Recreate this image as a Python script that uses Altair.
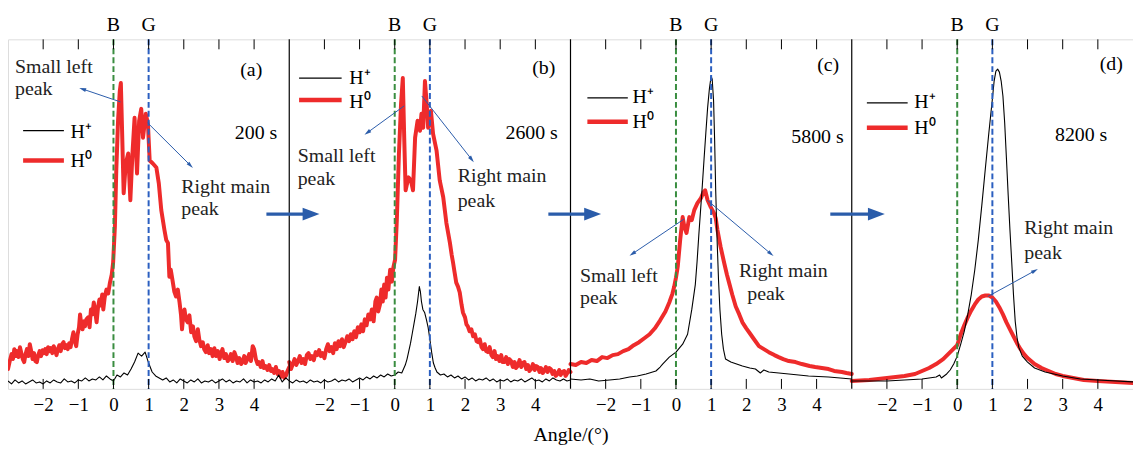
import math
import altair as alt
import pandas as pd

# ---------------- layout constants ----------------
SHIFT = 8              # angle units between consecutive panel origins
X_MIN, X_MAX = -3, 29  # unified x range (4 panels of 8 units)
W, H = 1133, 352
Y_MAX = 352
PX_PER_UNIT = W / (X_MAX - X_MIN)

RED = "#ee2b2b"
BLACK = "#000000"
GREEN = "#3a8d40"
BLUE_DASH = "#2b5fc0"
ARROW = "#2a5caa"
FONT = "Liberation Serif"

# ---------------- data (angle in degrees, intensity in arbitrary units) ----------------
panel_tags = ["(a)", "(b)", "(c)", "(d)"]
panel_times = ["200 s", "2600 s", "5800 s", "8200 s"]
tick_values = [-2, -1, 0, 1, 2, 3, 4]
ref_angles = [0, 1]
ref_names = ["B", "G"]

# H0 (red) curves
h0_a = [(-3.00,20),(-2.95,28),(-2.90,35),(-2.86,30),(-2.82,40),(-2.78,33),(-2.74,38),(-2.70,32),(-2.66,42),
        (-2.62,36),(-2.58,30),(-2.54,27),(-2.50,35),(-2.46,40),(-2.42,33),(-2.38,45),(-2.34,38),(-2.30,30),
        (-2.26,36),(-2.22,28),(-2.18,27),(-2.14,34),(-2.10,38),(-2.06,33),(-2.02,39),(-1.98,36),(-1.94,40),
        (-1.90,35),(-1.86,42),(-1.82,38),(-1.78,41),(-1.74,36),(-1.70,43),(-1.66,39),(-1.62,34),(-1.58,40),
        (-1.54,44),(-1.50,38),(-1.46,45),(-1.42,47),(-1.38,41),(-1.34,44),(-1.30,40),(-1.26,46),(-1.22,42),
        (-1.18,50),(-1.14,57),(-1.10,48),(-1.06,43),(-1.02,55),(-0.98,62),(-0.95,75),(-0.92,66),(-0.88,60),
        (-0.84,68),(-0.81,63),(-0.77,70),(-0.72,72),(-0.68,62),(-0.64,80),(-0.60,75),(-0.56,87),(-0.52,78),
        (-0.48,67),(-0.44,82),(-0.40,90),(-0.36,84),(-0.32,95),(-0.29,80),(-0.25,92),(-0.20,100),(-0.15,96),
        (-0.10,107),(-0.05,115),(-0.01,127),(0.04,163),(0.08,220),(0.13,270),(0.18,300),(0.21,308),(0.25,253),
        (0.29,197),(0.35,227),(0.42,237),(0.48,190),(0.54,237),(0.60,273),(0.67,217),(0.73,270),(0.79,282),
        (0.84,253),(0.92,277),(0.98,267),(1.03,230),(1.12,227),(1.22,223),(1.29,207),(1.36,180),(1.45,160),
        (1.50,150),(1.55,147),(1.59,113),(1.63,120),(1.69,107),(1.73,98),(1.78,93),(1.83,100),(1.88,87),
        (1.92,75),(1.95,60),(1.98,72),(2.02,80),(2.06,70),(2.11,67),(2.16,74),(2.21,57),(2.26,63),(2.30,53),
        (2.35,48),(2.40,60),(2.44,50),(2.49,43),(2.54,47),(2.58,40),(2.63,37),(2.68,44),(2.72,36),(2.77,40),
        (2.82,33),(2.87,41),(2.92,33),(2.97,38),(3.02,30),(3.06,36),(3.10,40),(3.15,31),(3.20,35),(3.25,28),
        (3.29,30),(3.34,35),(3.39,28),(3.44,37),(3.48,33),(3.53,26),(3.58,31),(3.63,25),(3.67,27),(3.72,33),
        (3.76,26),(3.81,30),(3.86,35),(3.91,28),(3.96,43),(4.00,40),(4.05,30),(4.10,25),(4.14,27),(4.19,22),
        (4.24,28),(4.28,21),(4.33,23),(4.38,19),(4.43,24),(4.48,18),(4.52,20),(4.57,16),(4.62,22),(4.67,15),
        (4.71,18),(4.76,12),(4.81,17),(4.86,11),(4.90,13),(4.95,18),(5.00,22)]
h0_b = [(-3.00,27),(-2.95,20),(-2.90,25),(-2.85,30),(-2.80,24),(-2.75,28),(-2.70,33),(-2.65,26),(-2.60,30),
        (-2.55,25),(-2.50,34),(-2.45,36),(-2.40,30),(-2.35,33),(-2.30,29),(-2.25,37),(-2.20,34),(-2.15,39),
        (-2.10,33),(-2.05,36),(-2.00,31),(-1.95,40),(-1.90,45),(-1.85,38),(-1.80,42),(-1.75,36),(-1.70,46),
        (-1.65,40),(-1.60,48),(-1.55,43),(-1.50,50),(-1.45,42),(-1.40,47),(-1.35,53),(-1.30,48),(-1.25,55),
        (-1.20,50),(-1.15,58),(-1.10,52),(-1.05,62),(-1.00,57),(-0.95,65),(-0.90,58),(-0.85,70),(-0.80,64),
        (-0.75,75),(-0.70,70),(-0.65,80),(-0.60,68),(-0.55,88),(-0.51,92),(-0.47,78),(-0.42,85),(-0.38,100),
        (-0.34,88),(-0.30,105),(-0.26,92),(-0.22,112),(-0.18,100),(-0.13,120),(-0.08,108),(-0.04,122),
        (0.01,130),(0.06,170),(0.12,237),(0.18,287),(0.23,313),(0.27,253),(0.31,200),(0.39,213),(0.46,210),
        (0.52,200),(0.58,253),(0.65,270),(0.72,260),(0.76,277),(0.81,263),(0.86,310),(0.91,287),(0.95,263),
        (1.03,280),(1.09,257),(1.19,240),(1.28,210),(1.38,193),(1.47,167),(1.57,147),(1.62,135),(1.66,127),
        (1.70,118),(1.75,107),(1.80,103),(1.85,97),(1.90,85),(1.94,77),(2.00,72),(2.04,65),(2.08,63),
        (2.13,58),(2.18,60),(2.23,53),(2.28,55),(2.33,48),(2.37,47),(2.42,50),(2.47,42),(2.51,40),(2.56,45),
        (2.60,38),(2.65,37),(2.70,42),(2.75,34),(2.79,32),(2.84,38),(2.88,30),(2.93,33),(2.98,28),(3.03,34),
        (3.07,27),(3.12,27),(3.17,32),(3.22,25),(3.26,30),(3.31,28),(3.36,22),(3.41,27),(3.45,21),(3.50,23),
        (3.55,29),(3.60,22),(3.64,26),(3.69,27),(3.74,20),(3.79,24),(3.83,18),(3.88,20),(3.93,25),(3.98,19),
        (4.02,23),(4.07,22),(4.12,17),(4.16,21),(4.21,16),(4.25,18),(4.30,22),(4.35,17),(4.40,21),(4.44,20),
        (4.49,15),(4.54,18),(4.58,13),(4.63,15),(4.68,19),(4.72,14),(4.77,17),(4.82,18),(4.86,13),(4.91,16),
        (4.95,19),(5.00,17)]
h0_c = [(-3.00,25),(-2.85,24),(-2.70,27),(-2.55,26),(-2.40,29),(-2.25,28),(-2.10,32),(-1.95,31),(-1.80,34),
        (-1.65,35),(-1.50,38),(-1.35,40),(-1.20,44),(-1.05,47),(-0.90,51),(-0.75,55),(-0.60,61),(-0.45,69),
        (-0.30,78),(-0.19,87),(-0.10,96),(-0.05,103),(0.00,112),(0.05,123),(0.12,150),(0.19,173),(0.24,163),
        (0.30,157),(0.38,173),(0.45,170),(0.52,180),(0.61,187),(0.71,192),(0.78,198),(0.83,200),(0.90,190),
        (0.99,183),(1.08,177),(1.13,172),(1.18,160),(1.27,143),(1.37,127),(1.45,115),(1.51,107),(1.60,95),
        (1.70,83),(1.80,75),(1.89,67),(2.00,61),(2.08,57),(2.20,51),(2.36,43),(2.50,40),(2.64,37),(2.80,34),
        (2.92,32),(3.05,30),(3.21,28),(3.40,27),(3.58,25),(3.80,23),(3.96,22),(4.15,21),(4.34,20),(4.50,18),
        (4.72,17),(4.85,16),(5.00,15)]
h0_d = [(-3.0,8),(-2.5,9),(-2.0,11),(-1.5,13),(-1.2,15),(-1.0,18),(-0.8,21),(-0.6,25),(-0.4,30),(-0.2,37),
        (0.0,44),(0.1,55),(0.2,64),(0.3,72),(0.4,79),(0.5,85),(0.6,90),(0.7,93),(0.8,94),(0.9,94),(1.0,92),
        (1.1,88),(1.2,82),(1.3,75),(1.4,67),(1.5,60),(1.6,53),(1.7,46),(1.8,40),(1.9,35),(2.0,31),(2.2,25),
        (2.4,21),(2.6,18),(2.8,15),(3.0,13),(3.3,11),(3.6,9),(4.0,8),(4.5,7),(5.0,6)]

# H+ (black) curves
hp_a = [(-3.0,8),(-2.9,5),(-2.8,9),(-2.7,6),(-2.6,8),(-2.5,5),(-2.4,7),(-2.3,9),(-2.2,6),(-2.1,7),(-2.0,5),
        (-1.9,8),(-1.8,6),(-1.7,9),(-1.6,7),(-1.5,6),(-1.4,10),(-1.3,7),(-1.2,8),(-1.1,6),(-1.0,9),(-0.9,8),
        (-0.8,11),(-0.7,8),(-0.6,10),(-0.5,9),(-0.4,12),(-0.3,9),(-0.2,13),(-0.1,10),(0.0,8),(0.1,14),(0.2,12),
        (0.3,16),(0.4,14),(0.5,20),(0.6,27),(0.7,36),(0.8,33),(0.9,37),(1.0,26),(1.1,17),(1.2,13),(1.3,11),
        (1.4,9),(1.5,11),(1.6,7),(1.7,9),(1.8,6),(1.9,10),(2.0,8),(2.1,6),(2.2,9),(2.3,7),(2.4,10),(2.5,6),
        (2.6,8),(2.7,7),(2.8,9),(2.9,6),(3.0,8),(3.1,10),(3.2,7),(3.3,9),(3.4,6),(3.5,8),(3.6,7),(3.7,10),
        (3.8,6),(3.9,9),(4.0,7),(4.1,8),(4.2,6),(4.3,9),(4.4,7),(4.5,10),(4.6,8),(4.7,14),(4.8,7),(4.9,11),(5.0,8)]
hp_b = [(-3.0,8),(-2.9,6),(-2.8,9),(-2.7,7),(-2.6,8),(-2.5,6),(-2.4,9),(-2.3,7),(-2.2,8),(-2.1,6),(-2.0,9),
        (-1.9,7),(-1.8,8),(-1.7,10),(-1.6,7),(-1.5,9),(-1.4,8),(-1.3,10),(-1.2,7),(-1.1,9),(-1.0,11),(-0.9,9),
        (-0.8,12),(-0.7,10),(-0.6,13),(-0.5,11),(-0.4,14),(-0.3,12),(-0.2,15),(-0.1,13),(0.0,14),(0.1,17),
        (0.2,16),(0.25,20),(0.3,24),(0.35,30),(0.4,38),(0.45,46),(0.5,56),(0.55,66),(0.6,76),(0.65,88),
        (0.7,103),(0.73,98),(0.76,88),(0.8,80),(0.85,77),(0.9,70),(0.95,62),(1.0,50),(1.05,37),(1.1,26),
        (1.15,21),(1.2,17),(1.3,14),(1.4,15),(1.5,12),(1.6,14),(1.7,11),(1.8,13),(1.9,10),(2.0,12),(2.1,9),
        (2.2,11),(2.3,8),(2.4,10),(2.5,9),(2.6,11),(2.7,8),(2.8,10),(2.9,7),(3.0,9),(3.1,8),(3.2,10),(3.3,7),
        (3.4,9),(3.5,8),(3.6,10),(3.7,7),(3.8,9),(3.9,11),(4.0,8),(4.1,9),(4.2,7),(4.3,10),(4.4,8),(4.5,11),
        (4.6,9),(4.7,8),(4.8,10),(4.9,8),(5.0,9)]
hp_c = [(-3.00,10),(-2.70,9),(-2.45,10),(-2.20,8),(-1.89,9),(-1.60,10),(-1.32,12),(-1.10,13),(-0.85,15),
        (-0.57,18),(-0.45,22),(-0.38,25),(-0.19,32),(0.00,37),(0.19,45),(0.33,55),(0.45,80),(0.55,105),
        (0.60,128),(0.65,155),(0.70,180),(0.75,205),(0.80,232),(0.85,258),(0.90,283),(0.95,302),(1.00,315),
        (1.03,312),(1.07,290),(1.10,250),(1.13,200),(1.17,150),(1.21,110),(1.25,80),(1.30,55),(1.35,40),
        (1.41,30),(1.56,27),(1.89,23),(2.10,21),(2.26,20),(2.40,16),(2.50,19),(2.64,17),(3.21,15),(3.77,13),
        (4.34,12),(5.00,10)]
hp_d = [(-3.0,8),(-2.0,8),(-1.0,10),(-0.6,12),(-0.5,14),(-0.45,11),(-0.3,15),(-0.2,19),(-0.1,25),(0.0,33),
        (0.1,45),(0.2,58),(0.3,75),(0.4,95),(0.5,120),(0.6,150),(0.7,185),(0.8,222),(0.9,258),(1.0,292),
        (1.05,310),(1.1,320),(1.15,322),(1.2,319),(1.25,310),(1.3,295),(1.35,268),(1.4,232),(1.45,195),
        (1.5,160),(1.55,128),(1.6,95),(1.65,68),(1.7,52),(1.75,42),(1.85,33),(2.0,27),(2.2,21),(2.5,17),
        (3.0,13),(3.5,10),(4.0,9),(5.0,7)]

# annotation placement (panel, angle, intensity)
tag_pos = [(0, 3.92, 315), (1, 4.24, 317), (2, 4.33, 320), (3, 4.38, 321)]
time_pos = [(0, 4.66, 252), (1, 4.64, 252), (2, 4.77, 248), (3, 4.27, 250)]
legend_lines = [(0, -2.57, -1.41, 260, "H+"), (0, -2.57, -1.41, 230, "H0"),
                (1, -2.72, -1.51, 313, "H+"), (1, -2.72, -1.51, 291, "H0"),
                (2, -2.52, -1.37, 293, "H+"), (2, -2.52, -1.37, 269, "H0"),
                (3, -2.57, -1.41, 288, "H+"), (3, -2.57, -1.41, 263, "H0")]
legend_texts = [(0, -1.22, 253, "H⁺"), (0, -1.22, 223, "H⁰"),
                (1, -1.29, 307, "H⁺"), (1, -1.29, 283, "H⁰"),
                (2, -1.24, 288, "H⁺"), (2, -1.24, 263, "H⁰"),
                (3, -1.22, 283, "H⁺"), (3, -1.22, 257, "H⁰")]
note_texts = [(0, -2.80, 318, "Small left"), (0, -2.80, 296, "peak"),
              (0, 1.93, 197, "Right main"), (0, 1.93, 175, "peak"),
              (1, -2.76, 228, "Small left"), (1, -2.76, 205, "peak"),
              (1, 1.79, 208, "Right main"), (1, 1.79, 183, "peak"),
              (2, -2.73, 108, "Small left"), (2, -2.73, 85, "peak"),
              (2, 1.79, 113, "Right main"), (2, 2.03, 90, "peak"),
              (3, 1.91, 156, "Right main"), (3, 1.91, 131, "peak")]
small_arrows = [(0, 0.20, 289, -0.88, 302), (0, 0.97, 268, 2.19, 225),
                (1, 0.27, 285, -0.78, 258), (1, 0.77, 295, 2.19, 231),
                (2, 0.23, 171, -1.24, 136), (2, 0.89, 190, 2.70, 136),
                (3, 0.87, 93, 2.21, 119)]
big_arrows = [(0, 4.35, 5.62, 176), (1, 4.37, 5.63, 176), (2, 4.39, 5.70, 176)]

# ---------------- tables ----------------
rows = []
for p, (h0, hp) in enumerate([(h0_a, hp_a), (h0_b, hp_b), (h0_c, hp_c), (h0_d, hp_d)]):
    rows += [{"panel": p, "series": "H0", "angle": a, "v": v} for a, v in h0]
    rows += [{"panel": p, "series": "H+", "angle": a, "v": v} for a, v in hp]
curves = pd.DataFrame(rows)

refs = pd.DataFrame([{"panel": p, "angle": a, "name": n}
                     for p in range(4) for a, n in zip(ref_angles, ref_names)])
ticks = pd.DataFrame([{"panel": p, "angle": t} for p in range(4) for t in tick_values])
seps = pd.DataFrame([{"panel": p, "angle": 5} for p in range(3)])
tags = pd.DataFrame([{"panel": p, "angle": a, "v": v, "label": panel_tags[p]} for p, a, v in tag_pos])
times = pd.DataFrame([{"panel": p, "angle": a, "v": v, "label": panel_times[p]} for p, a, v in time_pos])
leg_l = pd.DataFrame([{"panel": p, "angle": a0, "angle2": a1, "v": v, "series": s}
                      for p, a0, a1, v, s in legend_lines])
leg_t = pd.DataFrame([{"panel": p, "angle": a, "v": v, "label": t} for p, a, v, t in legend_texts])
notes = pd.DataFrame([{"panel": p, "angle": a, "v": v, "label": t} for p, a, v, t in note_texts])

sa_rows, head_rows = [], []
for p, a0, v0, a1, v1 in small_arrows:
    sa_rows.append({"panel": p, "angle": a0, "v": v0, "angle2": a1, "v2": v1})
    rot = math.degrees(math.atan2(-(v1 - v0), (a1 - a0) * PX_PER_UNIT)) % 360
    head_rows.append({"panel": p, "angle": a1, "v": v1, "rot": rot})
sarrows = pd.DataFrame(sa_rows)
sheads = pd.DataFrame(head_rows)
barrows = pd.DataFrame([{"panel": p, "angle": a0, "angle2": a1, "v": v} for p, a0, a1, v in big_arrows])

# ---------------- encodings ----------------
xscale = alt.Scale(domain=[X_MIN, X_MAX], nice=False, zero=False)
yscale = alt.Scale(domain=[0, Y_MAX], nice=False, zero=False)
tick_positions = [t + SHIFT * p for p in range(4) for t in tick_values]
lv = f"((datum.value + 3) % {SHIFT} - 3)"
label_expr = f"{lv} < 0 ? '−' + abs({lv}) : '' + {lv}"
xaxis = alt.Axis(values=tick_positions, labelExpr=label_expr, title="Angle/(°)",
                 ticks=False, tickSize=0, domain=False, grid=False,
                 labelFont=FONT, labelFontSize=19, labelColor="black", labelPadding=7,
                 labelOverlap=False, labelFlush=False,
                 titleFont=FONT, titleFontSize=20, titleFontWeight="normal",
                 titleColor="black", titlePadding=10)


def X(field="X"):
    return alt.X(f"{field}:Q", scale=xscale, axis=xaxis)


def Y(field="v"):
    return alt.Y(f"{field}:Q", scale=yscale, axis=None)


def base(df, two=False):
    c = alt.Chart(df).transform_calculate(X=f"datum.angle + {SHIFT} * datum.panel")
    if two:
        c = c.transform_calculate(X2=f"datum.angle2 + {SHIFT} * datum.panel")
    return c


red = base(curves).transform_filter("datum.series == 'H0'").mark_line(
    color=RED, strokeWidth=4, strokeJoin="round", strokeCap="round"
).encode(x=X(), y=Y(), detail="panel:N")

black = base(curves).transform_filter("datum.series == 'H+'").mark_line(
    color=BLACK, strokeWidth=1.1, strokeJoin="round"
).encode(x=X(), y=Y(), detail="panel:N")

dashes = base(refs).mark_rule(strokeDash=[6, 3], strokeWidth=2).encode(
    x=X(),
    color=alt.Color("name:N", scale=alt.Scale(domain=ref_names, range=[GREEN, BLUE_DASH]), legend=None),
)

bg_labels = base(refs).mark_text(font=FONT, fontSize=20, baseline="alphabetic", align="center",
                                 color="black").encode(x=X(), y=alt.value(-8), text="name:N")

separators = base(seps).mark_rule(color="black", strokeWidth=1.2).encode(x=X())

top_ticks = base(ticks).mark_rule(color="black", strokeWidth=1).encode(
    x=X(), y=alt.value(0), y2=alt.value(10))
bottom_ticks = base(ticks).mark_rule(color="black", strokeWidth=1).encode(
    x=X(), y=alt.value(H - 10), y2=alt.value(H))

tag_text = base(tags).mark_text(font=FONT, fontSize=20, baseline="alphabetic", align="center",
                                color="black").encode(x=X(), y=Y(), text="label:N")
time_text = base(times).mark_text(font=FONT, fontSize=20, baseline="alphabetic", align="right",
                                  color="black").encode(x=X(), y=Y(), text="label:N")
leg_lines = base(leg_l, two=True).mark_rule().encode(
    x=X(), x2=alt.X2("X2:Q"), y=Y(),
    color=alt.Color("series:N", scale=alt.Scale(domain=["H+", "H0"], range=[BLACK, RED]), legend=None),
    strokeWidth=alt.StrokeWidth("series:N", scale=alt.Scale(domain=["H+", "H0"], range=[1.2, 4.5]),
                                legend=None),
)
leg_text = base(leg_t).mark_text(font=FONT, fontSize=20, baseline="alphabetic", align="left",
                                 color="black").encode(x=X(), y=Y(), text="label:N")
note_text = base(notes).mark_text(font=FONT, fontSize=20, baseline="alphabetic", align="left",
                                  color="#222222").encode(x=X(), y=Y(), text="label:N")

small_lines = base(sarrows, two=True).mark_rule(color=ARROW, strokeWidth=1).encode(
    x=X(), x2=alt.X2("X2:Q"), y=Y(), y2=alt.Y2("v2:Q"))
small_heads = base(sheads).mark_point(shape="M1,0L-1,-0.55L-1,0.55Z", filled=True, size=49,
                                      color=ARROW, opacity=1, strokeWidth=0).encode(
    x=X(), y=Y(), angle=alt.Angle("rot:Q", scale=None))

big_lines = base(barrows, two=True).mark_rule(color=ARROW, strokeWidth=3.2).encode(
    x=X(), x2=alt.X2("X2:Q"), y=Y())
big_heads = base(barrows).transform_calculate(X="datum.angle2 + " + str(SHIFT) + " * datum.panel").mark_point(
    shape="M1,0L-1,-0.75L-1,0.75Z", filled=True, size=289, color=ARROW, opacity=1, strokeWidth=0
).encode(x=X(), y=Y())

chart = alt.layer(
    red, black, dashes, bg_labels, separators, top_ticks, bottom_ticks,
    tag_text, time_text, leg_lines, leg_text, note_text,
    small_lines, small_heads, big_lines, big_heads,
).resolve_scale(color="independent").properties(
    width=W, height=H,
    autosize=alt.AutoSizeParams(type="none"),
    padding={"left": 0, "top": 30, "right": 0, "bottom": 62},
).configure_view(stroke="black", strokeWidth=1.2).configure(background="white")

chart.save("out.html", embed_options={"renderer": "svg", "actions": False})
